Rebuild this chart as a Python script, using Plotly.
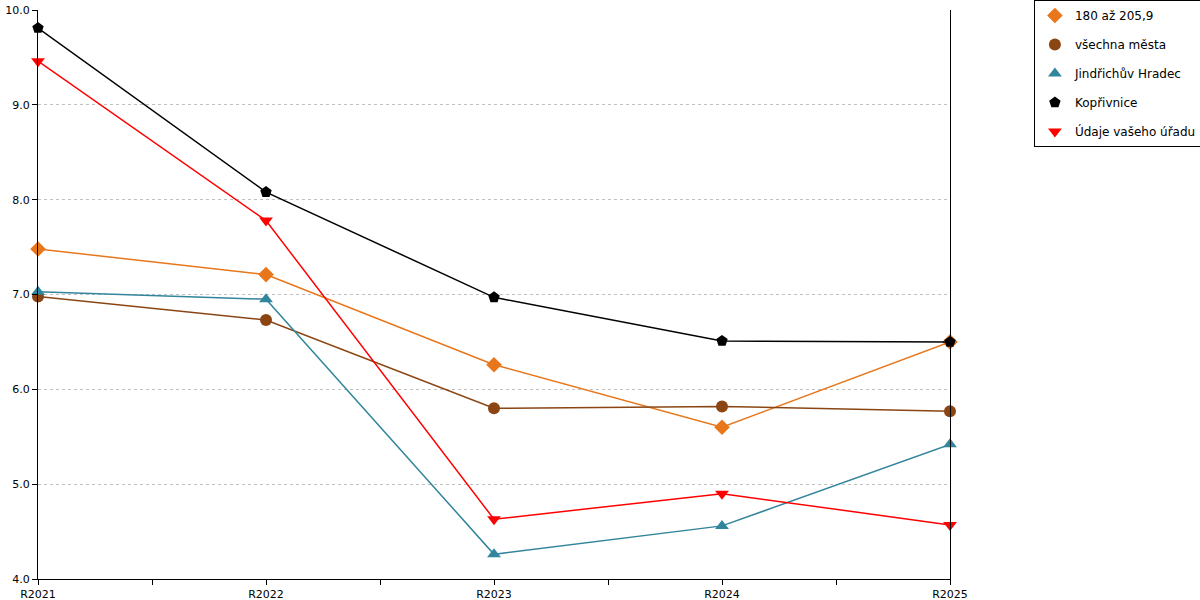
import plotly.graph_objects as go

categories = ['R2021', 'R2022', 'R2023', 'R2024', 'R2025']

s_180 = [7.48, 7.21, 6.26, 5.60, 6.50]
s_vsechna = [6.98, 6.73, 5.80, 5.82, 5.77]
s_jh = [7.03, 6.95, 4.26, 4.56, 5.42]
s_kopr = [9.81, 8.08, 6.97, 6.51, 6.50]
s_urad = [9.46, 7.78, 4.63, 4.90, 4.57]

names = ['180 až 205,9', 'všechna města', 'Jindřichův Hradec', 'Kopřivnice', 'Údaje vašeho úřadu']
values = [s_180, s_vsechna, s_jh, s_kopr, s_urad]
colors = ['#E8761A', '#8B4513', '#31859C', '#000000', '#FF0000']
symbols = ['diamond', 'circle', 'triangle-up', 'pentagon', 'triangle-down']

x = list(range(len(categories)))

fig = go.Figure()
for n, v, c, s in zip(names, values, colors, symbols):
    # line + markers, not in legend
    fig.add_trace(go.Scatter(x=x, y=v, name=n, mode='lines+markers', legendgroup=n,
                             line=dict(color=c, width=1.5),
                             marker=dict(symbol=s, size=12, color=c),
                             showlegend=False, cliponaxis=False))
    # legend entry showing the marker only
    fig.add_trace(go.Scatter(x=[None], y=[None], name=n, mode='markers', legendgroup=n,
                             marker=dict(symbol=s, size=12, color=c)))

fig.update_layout(
    width=1200, height=600,
    margin=dict(l=38, r=250, t=10, b=21, autoexpand=False),
    plot_bgcolor='white', paper_bgcolor='white',
    font=dict(family='DejaVu Sans', size=11, color='#000'),
    showlegend=True,
    legend=dict(x=1.092, y=1.0176, xanchor='left', yanchor='top',
                bordercolor='#000', borderwidth=1, bgcolor='white',
                font=dict(size=12), tracegroupgap=10, itemwidth=30),
    xaxis=dict(range=[0, 4], tickvals=x, ticktext=categories,
               showgrid=False, zeroline=False,
               showline=True, linecolor='#000', linewidth=1,
               ticks='outside', ticklen=5, tickcolor='#000',
               minor=dict(dtick=0.5, tick0=0, ticks='outside', ticklen=5, tickcolor='#000', showgrid=False)),
    yaxis=dict(range=[4, 10], dtick=1, tickformat='.1f',
               showgrid=True, gridcolor='#c0c0c0', griddash='3px,3px', gridwidth=1,
               zeroline=False, showline=True, linecolor='#000', linewidth=1,
               mirror=True, ticks='outside', ticklen=5, tickcolor='#000'),
)

fig.write_html('out.html', config={'displayModeBar': False},
               post_script="document.body.style.margin='0';")
